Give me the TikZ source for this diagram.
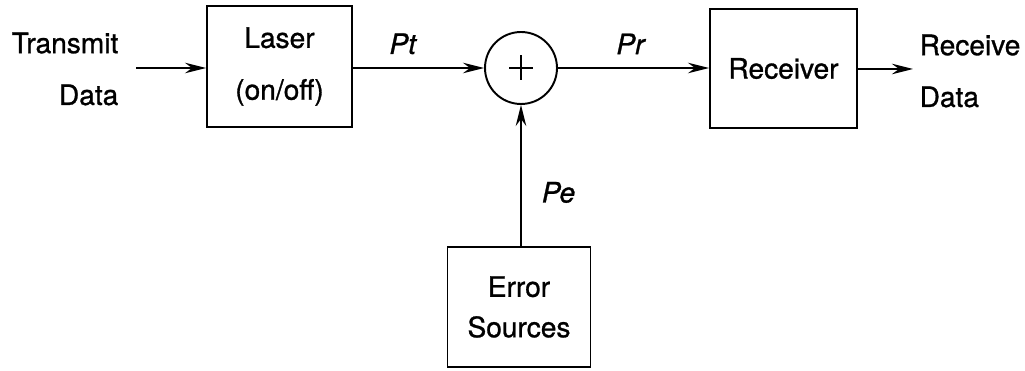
\documentclass[tikz,border=0pt]{standalone}
\usepackage{fontspec}
\setmainfont[FakeBold=1]{TeX Gyre Heros}
\usepackage{tikz}
\usetikzlibrary{calc,arrows.meta}

\begin{document}
\begin{tikzpicture}[x=0.02cm,y=-0.02cm,line width=1.1pt]
    % Styles for boxes and lines
    \tikzset{
      box/.style={rectangle, draw=black, align=center, font=\fontsize{16}{29.5}\selectfont},
      txt/.style={font=\fontsize{16}{29.5}\selectfont, inner sep=0pt},
      lbl/.style={font=\fontsize{16}{18}\selectfont\itshape},
      arrow/.style={-{Stealth[length=12pt,width=6pt,inset=4pt]}}
    }
    \useasboundingbox (0,0) rectangle (1025,371);

    % Nodes with explicit coordinates
    \node[txt, align=right] (tx) at (65,69) {Transmit\\Data};
    \node[box, minimum width=2.9cm, minimum height=2.42cm] (laser) at (279.5,66.5) {Laser\\(on/off)};
    \node[circle, draw=black, minimum size=1.44cm,
      path picture={\draw[line width=0.9pt] ($(path picture bounding box.center)+(-12,0)$) -- ++(24,0)
        ($(path picture bounding box.center)+(0,-12.5)$) -- ++(0,25);}] (sum) at (521,68) {};
    \node[box, minimum width=2.94cm, minimum height=2.38cm] (rx) at (783.5,68.5) {Receiver};
    \node[txt, align=left] (rd) at (970,71) {Receive\\Data};
    \node[box, minimum width=2.86cm, minimum height=2.4cm, font=\fontsize{16}{23}\selectfont] (err) at (519,307) {Error\\Sources};

    % Arrows with labels
    \draw[arrow] (136,68) -- (laser.west |- 0,68);
    \draw[arrow] (laser.east |- sum.west) -- node[lbl, pos=0.38, above=4pt] {Pt} (sum.west);
    \draw[arrow] (sum.east) -- node[lbl, pos=0.48, above=4pt] {Pr} (rx.west |- sum.east);
    \draw[arrow] (rx.east |- 0,69) -- (913,69);
    \draw[arrow] (err.north -| sum.south) -- node[lbl, pos=0.38, right=8pt] {Pe} (sum.south);

\end{tikzpicture}
\end{document}
